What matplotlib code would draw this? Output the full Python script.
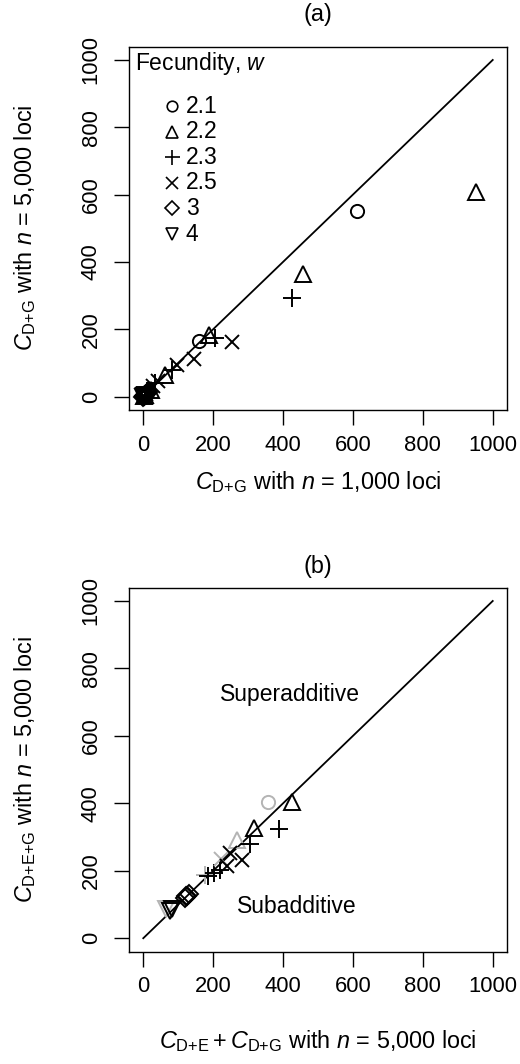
import numpy as np
import matplotlib
matplotlib.use('Agg')
import matplotlib.pyplot as plt

plt.rcParams['font.family'] = ['Liberation Sans', 'DejaVu Sans']
plt.rcParams['mathtext.fontset'] = 'custom'
plt.rcParams['mathtext.rm'] = 'Liberation Sans'
plt.rcParams['mathtext.it'] = 'Liberation Sans:italic'
plt.rcParams['mathtext.sf'] = 'Liberation Sans'

# Data panel (a): C_D+G with n=1000 loci (x) vs n=5000 loci (y)
fecundity = ['2.1', '2.2', '2.3', '2.5', '3', '4']
a_w21_x = [612, 160, 12, 4, 1]
a_w21_y = [551, 166, 10, 3, 1]
a_w22_x = [951, 458, 189, 62, 22, 6, 2]
a_w22_y = [607, 365, 183, 64, 20, 5, 2]
a_w23_x = [426, 205, 81, 34, 14, 4]
a_w23_y = [293, 173, 79, 40, 12, 3]
a_w25_x = [253, 144, 96, 43, 28, 9, 3]
a_w25_y = [163, 111, 94, 45, 30, 7, 2]
a_w3_x = [14, 8, 5, 2, 1, 0]
a_w3_y = [12, 7, 5, 2, 1, 0]
a_w4_x = [6, 3, 1, 0]
a_w4_y = [5, 2, 1, 0]

# Data panel (b): C_D+E + C_D+G (x) vs C_D+E+G (y), black and grey sets
b_w21_x = []
b_w21_y = []
b_w21_gx = [357]
b_w21_gy = [403]
b_w22_x = [427, 318]
b_w22_y = [403, 327]
b_w22_gx = [267]
b_w22_gy = [292]
b_w23_x = [388, 305, 220, 201, 186]
b_w23_y = [325, 279, 203, 193, 185]
b_w23_gx = [177]
b_w23_gy = [186]
b_w25_x = [248, 282, 239]
b_w25_y = [252, 233, 215]
b_w25_gx = [222]
b_w25_gy = [236]
b_w3_x = [118, 125, 130, 122]
b_w3_y = [118, 124, 130, 126]
b_w4_x = [77, 82]
b_w4_y = [82, 86]
b_w4_gx = [64]
b_w4_gy = [88]

markers = ['o', '^', '+', 'x', 'D', 'v']
msizes = [9.5, 11.5, 13.5, 10, 9, 11.5]
grey = '#b4b4b4'

W, H = 520, 1064
fig = plt.figure(figsize=(W / 100, H / 100), dpi=100)

def px_axes(left, top, right, bottom):
    return fig.add_axes([left / W, 1 - bottom / H, (right - left) / W, (bottom - top) / H])

ax1 = px_axes(129.3, 46.5, 506.7, 410.0)
ax2 = px_axes(129.3, 587.5, 506.7, 951.7)

for ax in (ax1, ax2):
    ax.set_xlim(-40, 1040)
    ax.set_ylim(-40, 1040)
    ax.set_xticks(np.arange(0, 1001, 200))
    ax.set_yticks(np.arange(0, 1001, 200))
    ax.tick_params(length=10.8, width=1.0, direction='out', labelsize=15.8)
    ax.tick_params(axis='x', pad=7)
    ax.tick_params(axis='y', pad=9, labelrotation=90)
    for lab in ax.get_yticklabels():
        lab.set_va('center')
    for s in ax.spines.values():
        s.set_linewidth(1.0)
    ax.plot([0, 1000], [0, 1000], color='black', lw=1.3, zorder=2)

def draw(ax, xs, ys, m, ms, color):
    if len(xs) == 0:
        return
    if m in ('+', 'x'):
        ax.plot(xs, ys, linestyle='none', marker=m, ms=ms, mew=1.4, color=color, zorder=3)
    else:
        ax.plot(xs, ys, linestyle='none', marker=m, ms=ms, mew=1.4, mfc='none',
                mec=color, zorder=3)

# panel (a)
a_sets = [(a_w21_x, a_w21_y), (a_w22_x, a_w22_y), (a_w23_x, a_w23_y),
          (a_w25_x, a_w25_y), (a_w3_x, a_w3_y), (a_w4_x, a_w4_y)]
for (xs, ys), m, ms in zip(a_sets, markers, msizes):
    draw(ax1, xs, ys, m, ms, 'black')

# legend (manual, R style)
ax1.text(0.015, 0.952, 'Fecundity, $w$', transform=ax1.transAxes, fontsize=16.5,
         ha='left', va='center')
for i, (lab, m, ms) in enumerate(zip(fecundity, markers, msizes)):
    yy = 0.836 - i * 0.0704
    if m in ('+', 'x'):
        ax1.plot(0.113, yy, marker=m, ms=ms * 0.8, mew=1.2, color='black',
                 transform=ax1.transAxes)
    else:
        ax1.plot(0.113, yy, marker=m, ms=ms * 0.8, mew=1.2, mfc='none', mec='black',
                 transform=ax1.transAxes)
    ax1.text(0.15, yy, lab, transform=ax1.transAxes, fontsize=16.5, ha='left', va='center')

# panel (b)
b_sets = [(b_w21_x, b_w21_y, b_w21_gx, b_w21_gy),
          (b_w22_x, b_w22_y, b_w22_gx, b_w22_gy),
          (b_w23_x, b_w23_y, b_w23_gx, b_w23_gy),
          (b_w25_x, b_w25_y, b_w25_gx, b_w25_gy),
          (b_w3_x, b_w3_y, [], []),
          (b_w4_x, b_w4_y, b_w4_gx, b_w4_gy)]
for (xs, ys, gx, gy), m, ms in zip(b_sets, markers, msizes):
    draw(ax2, gx, gy, m, ms, grey)
    draw(ax2, xs, ys, m, ms, 'black')

ax2.text(420, 723, 'Superadditive', fontsize=16.5, ha='center', va='center')
ax2.text(440, 93, 'Subadditive', fontsize=16.5, ha='center', va='center')

# titles and axis labels
cx = (129.3 + 506.7) / 2 / W
lab_fs = 16.8
fig.text(cx, 1 - 14 / H, '(a)', fontsize=lab_fs, ha='center', va='center')
fig.text(cx, 1 - 566 / H, '(b)', fontsize=lab_fs, ha='center', va='center')
fig.text(cx, 1 - 482 / H, r'$C_{\mathrm{D{+}G}}$ with $n$ = 1,000 loci', fontsize=lab_fs,
         ha='center', va='center')
fig.text(cx, 1 - 1041 / H,
         r'$C_{\mathrm{D{+}E}} + C_{\mathrm{D{+}G}}$ with $n$ = 5,000 loci',
         fontsize=lab_fs, ha='center', va='center')
fig.text(25 / W, 1 - 228 / H, r'$C_{\mathrm{D{+}G}}$ with $n$ = 5,000 loci', fontsize=lab_fs,
         ha='center', va='center', rotation=90)
fig.text(25 / W, 1 - 770 / H, r'$C_{\mathrm{D{+}E{+}G}}$ with $n$ = 5,000 loci',
         fontsize=lab_fs, ha='center', va='center', rotation=90)

fig.savefig('out.png', dpi=100)
